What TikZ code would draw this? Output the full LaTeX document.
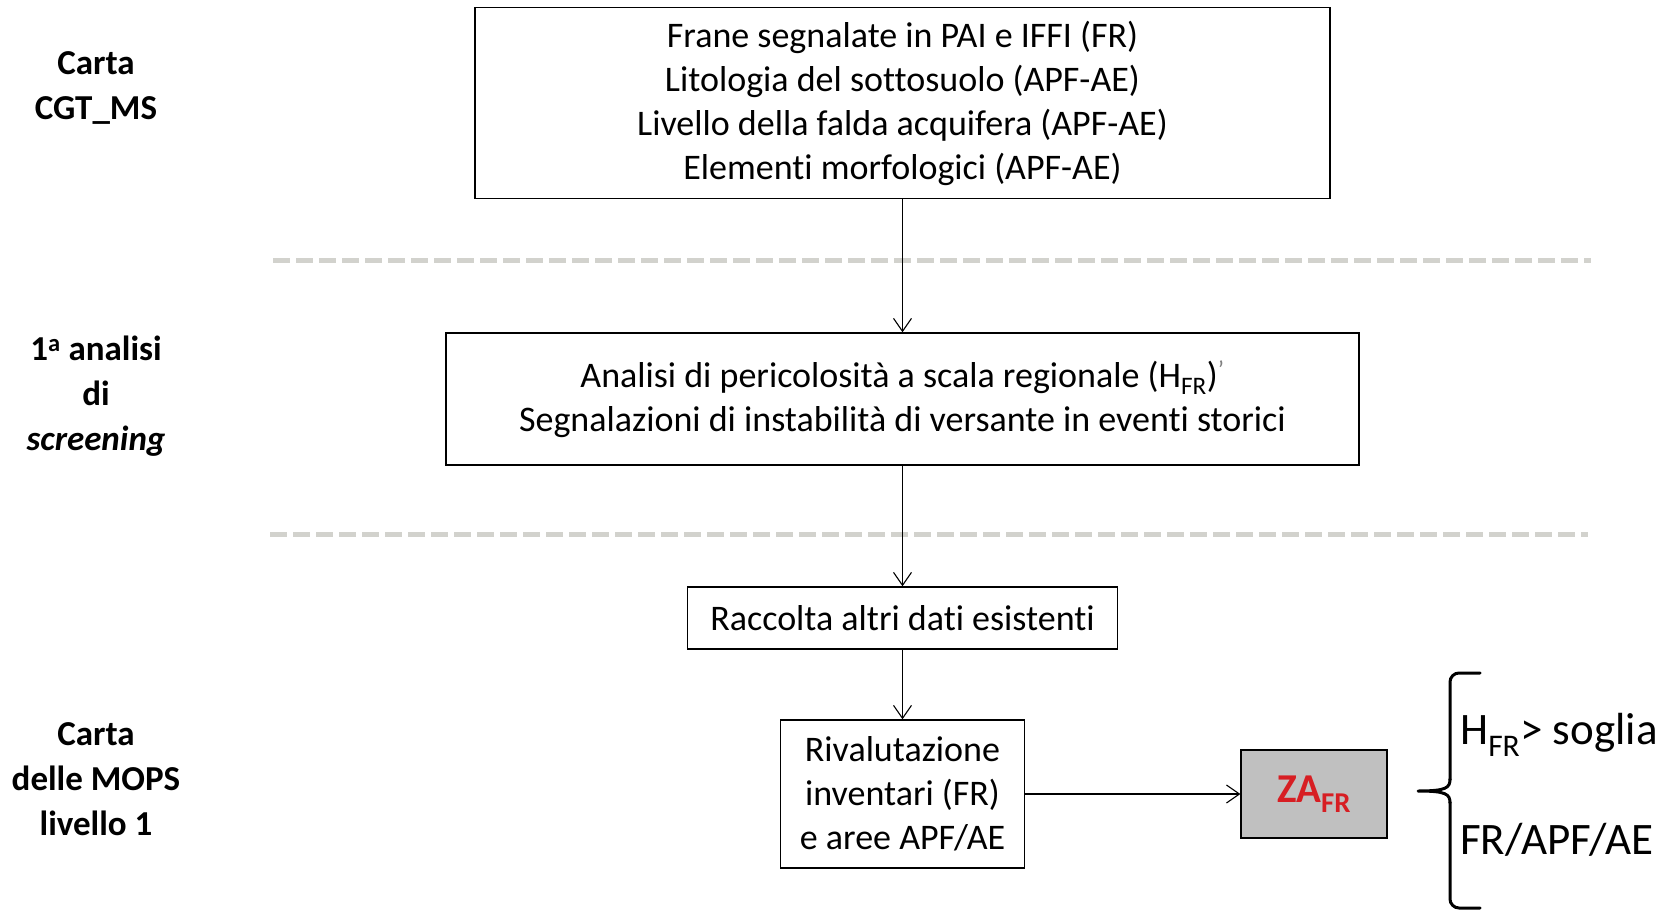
\documentclass[tikz,border=0pt]{standalone}
\usepackage{fontspec}
\setmainfont{Carlito}[Ligatures=CommonOff]
\usetikzlibrary{arrows.meta}
\definecolor{dashgray}{RGB}{210,210,205}
\definecolor{zared}{RGB}{215,30,35}
\definecolor{zagray}{RGB}{192,192,192}
\begin{document}
\begin{tikzpicture}[x=1pt,y=-1pt,
  box/.style={draw=black,line width=1.4pt,inner sep=0pt,align=center,
    font=\fontsize{36}{44}\selectfont},
  sidelabel/.style={align=center,font=\bfseries\fontsize{35}{45}\selectfont},
  flow/.style={line width=1.1pt,-{Straight Barb[length=13pt,width=18pt,line width=1.1pt]}},
  sepline/.style={dashgray,line width=5pt,dash pattern=on 17pt off 6pt},
  bracestyle/.style={line width=3pt,line cap=round,line join=round},
  bigtext/.style={anchor=west,inner sep=0pt,font=\fontsize{45}{54}\selectfont}]
\useasboundingbox (0,0) rectangle (1674,910);

% boxes
\node[box,minimum width=855pt,minimum height=191pt] (b1) at (902.5,103)
  {Frane segnalate in PAI e IFFI (FR)\\Litologia del sottosuolo (APF-AE)\\Livello della falda acquifera (APF-AE)\\Elementi morfologici (APF-AE)};
\node[box,minimum width=913pt,minimum height=132pt] (b2) at (902.5,399)
  {Analisi di pericolosità a scala regionale (H\textsubscript{FR})\textsuperscript{\color{gray}’}\\Segnalazioni di instabilità di versante in eventi storici};
\node[box,minimum width=430pt,minimum height=62pt] (b3) at (902.5,618)
  {Raccolta altri dati esistenti};
\node[box,minimum width=244pt,minimum height=148pt] (b4) at (902.5,794)
  {Rivalutazione\\inventari (FR)\\e aree APF/AE};
\node[box,fill=zagray,line width=1.2pt,minimum width=146pt,minimum height=88pt] (za) at (1314,794)
  {\color{zared}\bfseries\fontsize{41}{48}\selectfont ZA\textsubscript{FR}};

% separators
\coordinate (s1a) at (273,260.5); \coordinate (s1b) at (1591,260.5);
\coordinate (s2a) at (270,534);   \coordinate (s2b) at (1588,534);
\draw[sepline] (s1a) -- (s1b);
\draw[sepline] (s2a) -- (s2b);

% arrows
\draw[flow] (b1.south) -- (b2.north);
\draw[flow] (b2.south) -- (b3.north);
\draw[flow] (b3.south) -- (b4.north);
\draw[flow] (b4.east) -- (za.west);

% side labels
\node[sidelabel] (l1) at (96,88) {Carta\\CGT\_MS};
\node[sidelabel] (l2) at (96,396) {1\textsuperscript{a} analisi\\di\\\textit{screening}};
\node[sidelabel] (l3) at (96,779) {Carta\\delle MOPS\\livello 1};

% brace and outcomes
\coordinate (brT) at (1480,673);
\coordinate (brB) at (1480,908);
\coordinate (brTip) at (1418,791);
\draw[bracestyle,rounded corners=9pt] (brT) -- (1450,673) -- (1450,780);
\draw[bracestyle] (1450,779) .. controls (1450,788) and (1446,791) .. (brTip)
  .. controls (1446,791) and (1450,794) .. (1450,803);
\draw[bracestyle,rounded corners=9pt] (1450,802) -- (1450,908) -- (brB);
\node[bigtext] (o1) at (1460,735) {H\textsubscript{FR}> soglia};
\node[bigtext] (o2) at (1460,840) {FR/APF/AE};
\end{tikzpicture}
\end{document}
